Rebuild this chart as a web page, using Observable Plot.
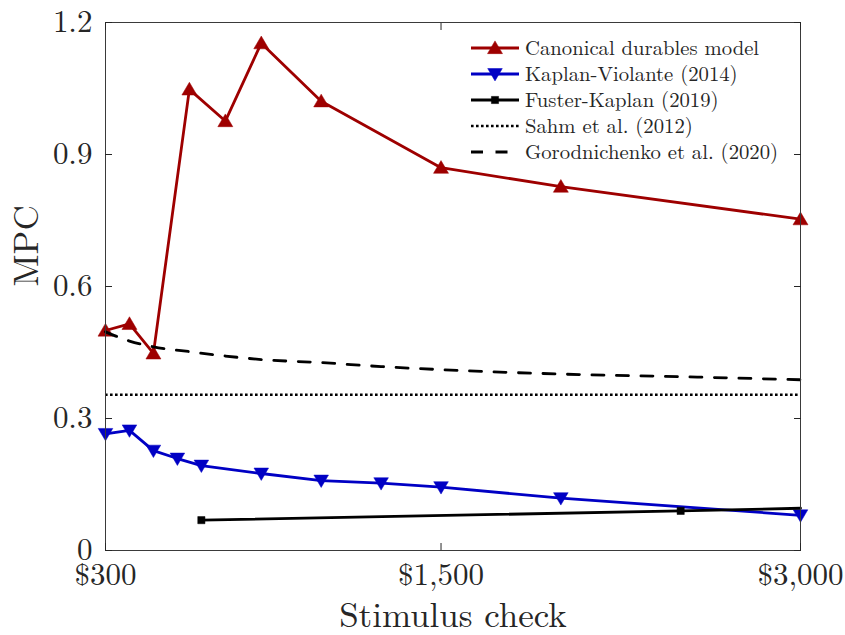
<!DOCTYPE html>
<html><head><meta charset="utf-8">
<script src="https://cdn.jsdelivr.net/npm/d3@7"></script>
<script src="https://cdn.jsdelivr.net/npm/@observablehq/plot@0.6"></script>
<style>
body{margin:0;background:#fff;}
#wrap{position:relative;width:845px;height:635px;}
#wrap svg{display:block;}
svg text, svg tspan{font-family:"Latin Modern Roman","Liberation Serif",monospace !important;}
#legend{position:absolute;left:0;top:0;pointer-events:none;}
</style></head><body><div id="wrap"></div>
<script>
// ---- data ----
const canonicalX = [100, 200, 300, 450, 600, 750, 1000, 1500, 2000, 3000];
const canonicalMPC = [0.500, 0.515, 0.448, 1.048, 0.976, 1.153, 1.021, 0.870, 0.827, 0.753];

const kaplanViolanteX = [100, 200, 300, 400, 500, 750, 1000, 1250, 1500, 2000, 3000];
const kaplanViolanteMPC = [0.265, 0.273, 0.227, 0.209, 0.193, 0.175, 0.159, 0.153, 0.144, 0.119, 0.080];

const fusterKaplanX = [500, 2500, 3000];
const fusterKaplanMPC = [0.069, 0.090, 0.096];
const fusterKaplanMarked = [true, true, false];

const sahmMPC = [0.354];

const gorodnichenkoX = [100, 200, 300, 450, 600, 750, 1000, 1250, 1500, 2000, 2500, 3000];
const gorodnichenkoMPC = [0.497, 0.476, 0.463, 0.452, 0.442, 0.434, 0.427, 0.418, 0.411, 0.401, 0.395, 0.388];

const seriesNames = ["Canonical durables model", "Kaplan-Violante (2014)", "Fuster-Kaplan (2019)", "Sahm et al. (2012)", "Gorodnichenko et al. (2020)"];

const xTickValues = [100, 1500, 3000];
const xTickLabels = ["$300", "$1,500", "$3,000"];
const yTickValues = [0, 0.3, 0.6, 0.9, 1.2];
const yTickLabels = ["0", "0.3", "0.6", "0.9", "1.2"];

// ---- build tables ----
const canonical = canonicalX.map((x, i) => ({x, y: canonicalMPC[i]}));
const kv = kaplanViolanteX.map((x, i) => ({x, y: kaplanViolanteMPC[i]}));
const fk = fusterKaplanX.map((x, i) => ({x, y: fusterKaplanMPC[i], m: fusterKaplanMarked[i]}));
const gorod = gorodnichenkoX.map((x, i) => ({x, y: gorodnichenkoMPC[i]}));

const RED = "#9e0000", BLUE = "#0000c4", BLACK = "#000";
const LW = 2.8;
const DASH = "12,12.5", DOT = "2.6,2.4";

const rr = s => Math.sqrt(s / Math.PI);
const triUp = {draw(c, s){ const r = rr(s); c.moveTo(0, -r*0.95); c.lineTo(r, r*0.75); c.lineTo(-r, r*0.75); c.closePath(); }};
const triDown = {draw(c, s){ const r = rr(s); c.moveTo(0, r*0.95); c.lineTo(r, -r*0.75); c.lineTo(-r, -r*0.75); c.closePath(); }};
const square = {draw(c, s){ const r = rr(s); c.rect(-r, -r, 2*r, 2*r); }};

const FONT = '"Latin Modern Roman", "Liberation Serif", monospace';
const AX = "#262626";

const chart = Plot.plot({
  width: 845, height: 635,
  marginLeft: 105, marginRight: 45, marginTop: 22, marginBottom: 85,
  style: {fontFamily: FONT, background: "white", color: AX, overflow: "visible"},
  x: {domain: [100, 3000]},
  y: {domain: [0, 1.2]},
  marks: [
    Plot.ruleY(sahmMPC, {stroke: BLACK, strokeWidth: 2.6, strokeDasharray: DOT}),
    Plot.line(canonical, {x: "x", y: "y", stroke: RED, strokeWidth: LW}),
    Plot.dot(canonical, {x: "x", y: "y", symbol: triUp, r: 7.5, fill: RED, stroke: RED, strokeWidth: 0.5}),
    Plot.line(kv, {x: "x", y: "y", stroke: BLUE, strokeWidth: LW}),
    Plot.dot(kv, {x: "x", y: "y", symbol: triDown, r: 7.3, fill: BLUE, stroke: BLUE, strokeWidth: 0.5}),
    Plot.line(fk, {x: "x", y: "y", stroke: BLACK, strokeWidth: LW}),
    Plot.dot(fk.filter(d => d.m), {x: "x", y: "y", symbol: square, r: 3.6, fill: BLACK, stroke: BLACK, strokeWidth: 0.5}),
    Plot.line(gorod, {x: "x", y: "y", stroke: BLACK, strokeWidth: LW, strokeDasharray: DASH, curve: "monotone-x"}),
    Plot.frame({stroke: "#3a3a3a", strokeWidth: 1}),
    Plot.axisX({ticks: xTickValues, tickFormat: d => xTickLabels[xTickValues.indexOf(d)], tickSize: -7, tickPadding: 19, fontSize: 31, fontFamily: FONT, label: null, stroke: AX}),
    Plot.axisX({anchor: "top", ticks: xTickValues, tickFormat: () => "", tickSize: -7, label: null, stroke: AX}),
    Plot.axisY({ticks: yTickValues, tickFormat: d => yTickLabels[yTickValues.indexOf(d)], tickSize: -7, tickPadding: 20, fontSize: 31, fontFamily: FONT, label: null, stroke: AX}),
    Plot.axisY({anchor: "right", ticks: yTickValues, tickFormat: () => "", tickSize: -7, label: null, stroke: AX}),
    Plot.text(["Stimulus check"], {frameAnchor: "bottom", dy: 76, lineAnchor: "bottom", fontSize: 35, fontFamily: FONT, fill: AX}),
    Plot.text(["MPC"], {frameAnchor: "left", dx: -79, rotate: -90, lineAnchor: "middle", fontSize: 35, fontFamily: FONT, fill: AX})
  ]
});
const wrap = document.getElementById("wrap");
wrap.appendChild(chart);

// ---- legend overlay ----
const lg = d3.select(wrap).append("svg").attr("id", "legend").attr("width", 845).attr("height", 635);
const legendRows = [
  {color: RED, dash: null, sym: triUp, size: Math.PI*7.5*7.5},
  {color: BLUE, dash: null, sym: triDown, size: Math.PI*7.3*7.3},
  {color: BLACK, dash: null, sym: square, size: Math.PI*3.6*3.6},
  {color: BLACK, dash: DOT, sym: null},
  {color: BLACK, dash: DASH, sym: null}
];
const lx0 = 471, lx1 = 519, ly0 = 48, ldy = 26;
legendRows.forEach((r, i) => {
  const y = ly0 + i * ldy;
  lg.append("line").attr("x1", lx0).attr("x2", lx1).attr("y1", y).attr("y2", y)
    .attr("stroke", r.color).attr("stroke-width", r.dash === DOT ? 2.6 : LW)
    .attr("stroke-dasharray", r.dash);
  if (r.sym) lg.append("path").attr("d", d3.symbol(r.sym, r.size)()).attr("transform", `translate(${(lx0+lx1)/2},${y})`)
    .attr("fill", r.color).attr("stroke", r.color).attr("stroke-width", 0.5);
  lg.append("text").attr("x", 525).attr("y", y).attr("dy", "0.35em").text(seriesNames[i])
    .attr("font-family", FONT).attr("font-size", 20.7).attr("fill", AX);
});
</script>
</body></html>
